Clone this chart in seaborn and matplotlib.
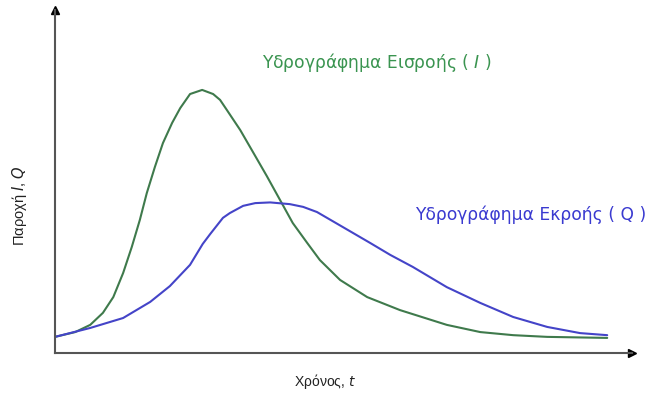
import pandas as pd
import matplotlib.pyplot as plt
import seaborn as sns

# 数据 (读自原图, 任意单位)
t_in = [0.00, 0.35, 0.61, 0.83, 1.01, 1.18, 1.33, 1.47, 1.59, 1.73, 1.87, 2.03, 2.17,
        2.34, 2.55, 2.74, 2.86, 2.98, 3.21, 3.43, 3.67, 3.90, 4.12, 4.37, 4.59, 4.94,
        5.41, 5.98, 6.79, 7.37, 7.94, 8.53, 9.57]
q_in = [0.47, 0.61, 0.82, 1.17, 1.63, 2.33, 3.09, 3.88, 4.66, 5.42, 6.12, 6.71, 7.14,
        7.55, 7.67, 7.55, 7.38, 7.08, 6.50, 5.86, 5.16, 4.46, 3.79, 3.21, 2.71, 2.13,
        1.63, 1.25, 0.82, 0.61, 0.52, 0.47, 0.44]

t_out = [0.00, 0.61, 1.18, 1.65, 1.99, 2.34, 2.56, 2.69, 2.91, 3.03, 3.26, 3.47, 3.73,
         4.07, 4.30, 4.54, 4.99, 5.46, 5.81, 6.20, 6.79, 7.37, 7.94, 8.53, 9.10, 9.57]
q_out = [0.47, 0.73, 1.02, 1.49, 1.95, 2.57, 3.18, 3.47, 3.94, 4.08, 4.29, 4.37, 4.39,
         4.34, 4.26, 4.11, 3.67, 3.21, 2.86, 2.51, 1.92, 1.46, 1.05, 0.76, 0.58, 0.52]

label_in = 'Υδρογράφημα Εισροής ( $I$ )'
label_out = 'Υδρογράφημα Εκροής ( Q )'

df_in = pd.DataFrame({'t': t_in, 'Q': q_in})
df_out = pd.DataFrame({'t': t_out, 'Q': q_out})

sns.set_theme(style="white")
plt.rcParams['font.family'] = ['Liberation Sans', 'DejaVu Sans']

fig = plt.figure(figsize=(6.45, 4), dpi=100)
ax = fig.add_axes([0.0853, 0.1175, 0.8946, 0.8575])

sns.lineplot(data=df_in, x='t', y='Q', ax=ax, color='#3f7a4c', linewidth=1.5, sort=False)
sns.lineplot(data=df_out, x='t', y='Q', ax=ax, color='#4444c8', linewidth=1.5, sort=False)

ax.set_xlim(0, 10)
ax.set_ylim(0, 10)
ax.set_xticks([])
ax.set_yticks([])
sns.despine(ax=ax)
for s in ['left', 'bottom']:
    ax.spines[s].set_color('#555555')
    ax.spines[s].set_linewidth(1.5)

# 坐标轴箭头
ax.plot(1, 0, '>', color='black', markersize=6, transform=ax.transAxes, clip_on=False)
ax.plot(0, 1, '^', color='black', markersize=6, transform=ax.transAxes, clip_on=False)

ax.set_xlabel('Χρόνος, $t$', fontsize=10, color='#222222')
ax.set_ylabel('Παροχή $I$, $Q$', fontsize=10.5, color='#222222')
ax.xaxis.set_label_coords(0.468, -0.055)
ax.yaxis.set_label_coords(-0.045, 0.431)

ax.text(3.59, 8.48, label_in, color='#3a9450', fontsize=12.3, va='center', family='DejaVu Sans')
ax.text(6.24, 4.02, label_out, color='#3a3ad0', fontsize=12.3, va='center', family='DejaVu Sans')

plt.savefig('out.png', dpi=100)
